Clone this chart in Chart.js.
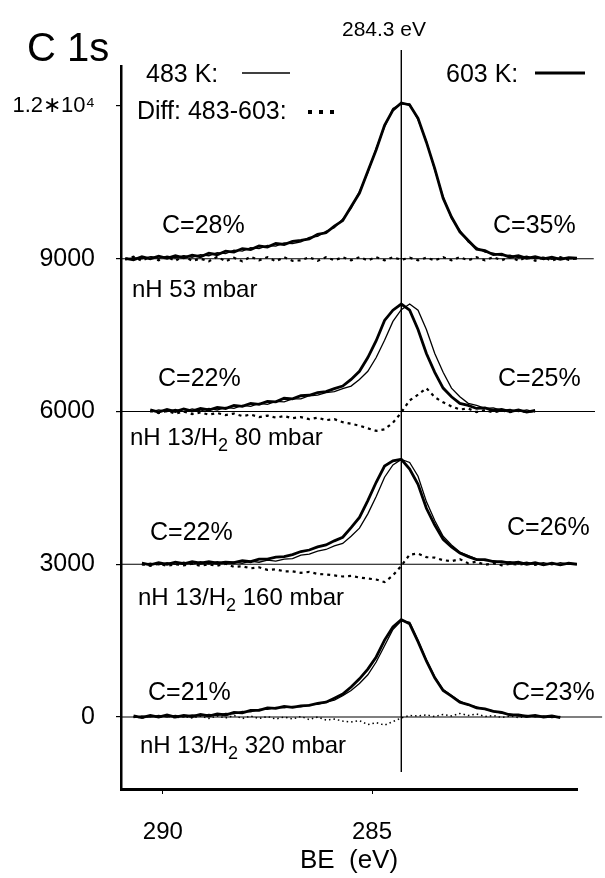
<!DOCTYPE html>
<html>
<head>
<meta charset="utf-8">
<script src="https://cdn.jsdelivr.net/npm/chart.js@4.4.1/dist/chart.umd.min.js"></script>
<style>
  html, body { margin: 0; padding: 0; background: #fff; }
  canvas { display: block; }
</style>
</head>
<body>
<canvas id="myChart" width="605" height="878"></canvas>
<script>
// binding energy grid (eV), shared by all spectra
var energies = [
  290.9, 290.7, 290.5, 290.3, 290.1, 289.9, 289.7, 289.5, 289.3, 289.1,
  288.9, 288.7, 288.5, 288.3, 288.1, 287.9, 287.7, 287.5, 287.3, 287.1,
  286.9, 286.7, 286.5, 286.3, 286.1, 285.9, 285.7, 285.5, 285.3, 285.1,
  284.9, 284.7, 284.5, 284.3, 284.1, 283.9, 283.7, 283.5, 283.3, 283.1,
  282.9, 282.7, 282.5, 282.3, 282.1, 281.9, 281.7, 281.5, 281.3, 281.1,
  280.9, 280.7, 280.5, 280.3, 280.1
];

// vertical offset of each spectrum group (counts)
var offsets = [9000, 6000, 3000, 0];
// where each group's zero line stops on the right (eV)
var baselineEnds = [279.7, 279.67, 280.1, 279.5];

var markerBE = 284.3;
var markerSpan = [13100, -1080];

var xTicks = [290, 285];
var yTicks = [0, 3000, 6000, 9000, 12000];

// nH 53 mbar
var g1Hot = [
  10, -20, 40, 0, 50, 10, 60, 20, 70, 40,
  110, 80, 150, 130, 200, 180, 250, 230, 300, 280,
  340, 360, 390, 480, 510, 640, 750, 1020, 1290, 1720,
  2140, 2620, 2920, 3060, 3020, 2760, 2290, 1770, 1190, 820,
  530, 360, 190, 160, 80, 90, 30, 60, 10, 40,
  0, 30, -10, 20, 10
];
var g1Cold = [
  -10, 20, 0, 40, 10, 50, 20, 60, 30, 80,
  60, 120, 100, 170, 150, 220, 200, 260, 250, 310,
  300, 330, 420, 440, 540, 610, 780, 990, 1320, 1690,
  2170, 2590, 2950, 3040, 3040, 2730, 2310, 1740, 1220, 790,
  560, 330, 220, 130, 110, 60, 70, 20, 50, 0,
  30, -10, 20, 0, 20
];
var g1Diff = [
  -20, 40, -40, 40, -30, 40, -40, 50, -40, 0,
  -50, 40, -50, 20, -50, 40, -30, 30, -50, 30,
  -40, -30, 30, -40, 30, -30, 30, -30, 30, -30,
  30, -30, 30, -20, 20, -30, 20, -30, 30, -30,
  30, -30, 30, -30, 30, -30, 40, -40, 40, -40,
  30, -40, 30, -20, 10
];

// nH 13/H2 80 mbar
var g2Hot = [
  null, null, null, 30, -10, 40, 0, 50, 10, 60,
  30, 80, 60, 120, 100, 160, 140, 200, 190, 260,
  250, 310, 320, 370, 390, 450, 500, 630, 790, 1060,
  1390, 1790, 1990, 2110, 1990, 1610, 1140, 770, 460, 290,
  160, 120, 60, 70, 20, 40, 0, 30, -10, 20,
  null, null, null, null, null
];
var g2Cold = [
  null, null, null, -10, 30, 0, 40, 0, 50, 10,
  60, 30, 80, 60, 120, 100, 160, 140, 200, 190,
  250, 250, 310, 320, 370, 390, 450, 500, 630, 790,
  1060, 1400, 1770, 2000, 2110, 1990, 1610, 1140, 770, 460,
  290, 160, 120, 60, 70, 20, 40, 0, 30, -10,
  null, null, null, null, null
];
var g2Diff = [
  null, null, null, 20, -30, 10, -40, 0, -50, -20,
  -60, -30, -70, -40, -90, -60, -110, -80, -120, -90,
  -130, -110, -150, -120, -170, -150, -210, -240, -280, -330,
  -380, -350, -220, -20, 220, 330, 460, 280, 180, 100,
  40, 60, -10, 30, -20, 20, -10, 20, -10, 10,
  null, null, null, null, null
];

// nH 13/H2 160 mbar
var g3Hot = [
  null, null, 20, -10, 30, 0, 40, 10, 50, 20,
  50, 20, 40, 30, 70, 50, 100, 100, 140, 150,
  190, 250, 280, 340, 380, 460, 530, 720, 920, 1250,
  1610, 1930, 2030, 2060, 1870, 1570, 1100, 770, 490, 340,
  220, 150, 90, 90, 50, 50, 20, 40, 0, 30,
  -10, 20, -10, 20, 0
];
var g3Cold = [
  null, null, -10, 20, -10, 30, 0, 40, 0, 50,
  10, 50, 10, 40, 20, 60, 40, 80, 60, 100,
  110, 180, 200, 260, 290, 360, 410, 550, 710, 990,
  1330, 1710, 1950, 2060, 2000, 1730, 1230, 860, 550, 380,
  240, 170, 100, 70, 70, 30, 50, 10, 40, 0,
  30, -10, 30, 0, 10
];
var g3Diff = [
  null, null, 0, -30, 10, -30, 0, -20, 10, -30,
  0, -30, 10, -50, -40, -80, -60, -110, -100, -140,
  -140, -170, -150, -190, -200, -220, -240, -230, -260, -280,
  -300, -350, -220, -30, 190, 210, 140, 130, 80, 60,
  100, 20, 50, -10, 20, -20, 10, -10, 20, -10,
  10, null, null, null, null
];

// nH 13/H2 320 mbar
var g4Hot = [
  null, 20, -10, 30, 0, 40, 0, 30, 10, 50,
  20, 60, 40, 90, 80, 130, 130, 180, 170, 210,
  190, 220, 230, 270, 290, 370, 450, 590, 750, 940,
  1180, 1510, 1770, 1910, 1830, 1480, 1100, 770, 520, 410,
  290, 245, 180, 160, 110, 90, 40, 40, 10, 30,
  0, 20, -10, null, null
];
var g4Cold = [
  null, -10, 20, 0, 30, 0, 30, 0, 40, 20,
  50, 30, 70, 60, 110, 100, 150, 150, 190, 180,
  210, 200, 240, 250, 290, 330, 420, 520, 660, 830,
  1080, 1400, 1720, 1890, 1860, 1500, 1120, 790, 540, 420,
  310, 240, 200, 150, 120, 70, 60, 20, 30, 0,
  20, -10, 10, null, null
];
var g4Diff = [
  null, 10, -20, 20, -10, 20, -20, 10, -20, 20,
  -30, 20, -20, 30, -30, 20, -30, 10, -40, 0,
  -40, 10, -50, 0, -60, -40, -80, -100, -70, -150,
  -110, -160, -90, -20, 30, 20, 40, 10, 50, 20,
  70, 30, 60, 10, 30, -10, 20, -10, 10, null,
  null, null, null, null, null
];

var hotSeries = [g1Hot, g2Hot, g3Hot, g4Hot];
var coldSeries = [g1Cold, g2Cold, g3Cold, g4Cold];
var diffSeries = [g1Diff, g2Diff, g3Diff, g4Diff];

var leftComposition = ['C=28%', 'C=22%', 'C=22%', 'C=21%'];
var rightComposition = ['C=35%', 'C=25%', 'C=26%', 'C=23%'];
var groupLabels = [['nH 53 mbar'], ['nH 13/H', '2', ' 80 mbar'], ['nH 13/H', '2', ' 160 mbar'], ['nH 13/H', '2', ' 320 mbar']];

var FONT = '"Liberation Sans", Arial, Helvetica, sans-serif';

function toPoints(values, offset) {
  return energies.map(function (e, i) {
    return { x: e, y: values[i] === null ? null : values[i] + offset };
  });
}

var datasets = [];
for (var g = 0; g < 4; g++) {
  datasets.push({
    data: [{ x: 291, y: offsets[g] }, { x: baselineEnds[g], y: offsets[g] }],
    borderColor: '#000', borderWidth: 1.2, clip: false
  });
}
datasets.push({
  data: [{ x: markerBE, y: markerSpan[0] }, { x: markerBE, y: markerSpan[1] }],
  borderColor: '#000', borderWidth: 1.4, clip: false
});
for (var g = 0; g < 4; g++) {
  datasets.push({
    data: toPoints(diffSeries[g], offsets[g]),
    borderColor: '#000', borderWidth: g == 3 ? 1.5 : 2.2,
    borderDash: g == 3 ? [1.5, 3] : [3, 4]
  });
  datasets.push({
    data: toPoints(coldSeries[g], offsets[g]),
    borderColor: '#000', borderWidth: 1.3
  });
  datasets.push({
    data: toPoints(hotSeries[g], offsets[g]),
    borderColor: '#000', borderWidth: 2.8
  });
}

function text(ctx, s, x, y, size, align) {
  ctx.font = size + 'px ' + FONT;
  ctx.textAlign = align || 'left';
  ctx.textBaseline = 'alphabetic';
  ctx.fillText(s, x, y);
}

function richText(ctx, parts, x, y, size) {
  ctx.textAlign = 'left';
  ctx.textBaseline = 'alphabetic';
  for (var i = 0; i < parts.length; i++) {
    var sub = i == 1;
    ctx.font = (sub ? Math.round(size * 0.75) : size) + 'px ' + FONT;
    ctx.fillText(parts[i], x, sub ? y + 6 : y);
    x += ctx.measureText(parts[i]).width;
  }
}

var textPlugin = {
  id: 'texts',
  beforeDraw: function (chart) {
    var ctx = chart.ctx;
    ctx.save();
    ctx.fillStyle = '#fff';
    ctx.fillRect(0, 0, chart.width, chart.height);
    ctx.restore();
  },
  afterDraw: function (chart) {
    var ctx = chart.ctx;
    ctx.save();
    ctx.fillStyle = '#000';
    ctx.strokeStyle = '#000';
    text(ctx, 'C 1s', 27, 61, 40);
    text(ctx, '284.3 eV', 384, 36, 21, 'center');

    // legend
    text(ctx, '483 K:', 146, 82, 25);
    ctx.lineWidth = 1.3;
    ctx.beginPath(); ctx.moveTo(242, 73); ctx.lineTo(290, 73); ctx.stroke();
    text(ctx, '603 K:', 446, 82, 25);
    ctx.lineWidth = 3;
    ctx.beginPath(); ctx.moveTo(535, 73); ctx.lineTo(585, 73); ctx.stroke();
    text(ctx, 'Diff: 483-603:', 137, 119, 25);
    [308, 319, 330].forEach(function (x) { ctx.fillRect(x, 110, 4, 4); });

    var leftPos = [[162, 233], [158, 386], [150, 540], [148, 700]];
    var rightPos = [[493, 233], [498, 386], [507, 535], [512, 700]];
    var labelPos = [[132, 297], [130, 445], [138, 605], [140, 753]];
    for (var i = 0; i < 4; i++) {
      text(ctx, leftComposition[i], leftPos[i][0], leftPos[i][1], 25);
      text(ctx, rightComposition[i], rightPos[i][0], rightPos[i][1], 25);
      richText(ctx, groupLabels[i], labelPos[i][0], labelPos[i][1], 24);
    }
    ctx.restore();
  }
};

var mychart = new Chart(document.getElementById('myChart').getContext('2d'), {
  type: 'line',
  data: { datasets: datasets },
  options: {
    responsive: false,
    animation: false,
    layout: { padding: { top: 66, right: 28, left: 0, bottom: 0 } },
    plugins: { legend: { display: false }, tooltip: { enabled: false } },
    elements: { point: { radius: 0 }, line: { tension: 0 } },
    scales: {
      x: {
        type: 'linear', reverse: true, min: 280.1, max: 291,
        border: { color: '#000', width: 3 },
        grid: { drawOnChartArea: false, drawTicks: true, tickLength: 5, color: '#000', lineWidth: 1 },
        ticks: { color: '#000', font: { family: FONT, size: 24 }, padding: 24 },
        afterBuildTicks: function (s) { s.ticks = xTicks.map(function (v) { return { value: v }; }); },
        afterFit: function (s) { s.height = 89; },
        title: { display: true, text: 'BE  (eV)', color: '#000', font: { family: FONT, size: 26 }, padding: { top: 0, bottom: 2 } }
      },
      y: {
        min: -1414, max: 12786,
        border: { color: '#000', width: 2.5 },
        grid: { drawOnChartArea: false, drawTicks: true, tickLength: 5, color: '#000', lineWidth: 1.2 },
        ticks: {
          color: '#000', padding: 21,
          font: function (c) { return { family: FONT, size: c.tick && c.tick.value == 12000 ? 22 : 25 }; },
          callback: function (v) { return v == 12000 ? '1.2\u221710\u2074' : String(v); }
        },
        afterBuildTicks: function (s) { s.ticks = yTicks.map(function (v) { return { value: v }; }); },
        afterFit: function (s) { s.width = 121; }
      }
    }
  },
  plugins: [textPlugin]
});
</script>
</body>
</html>
